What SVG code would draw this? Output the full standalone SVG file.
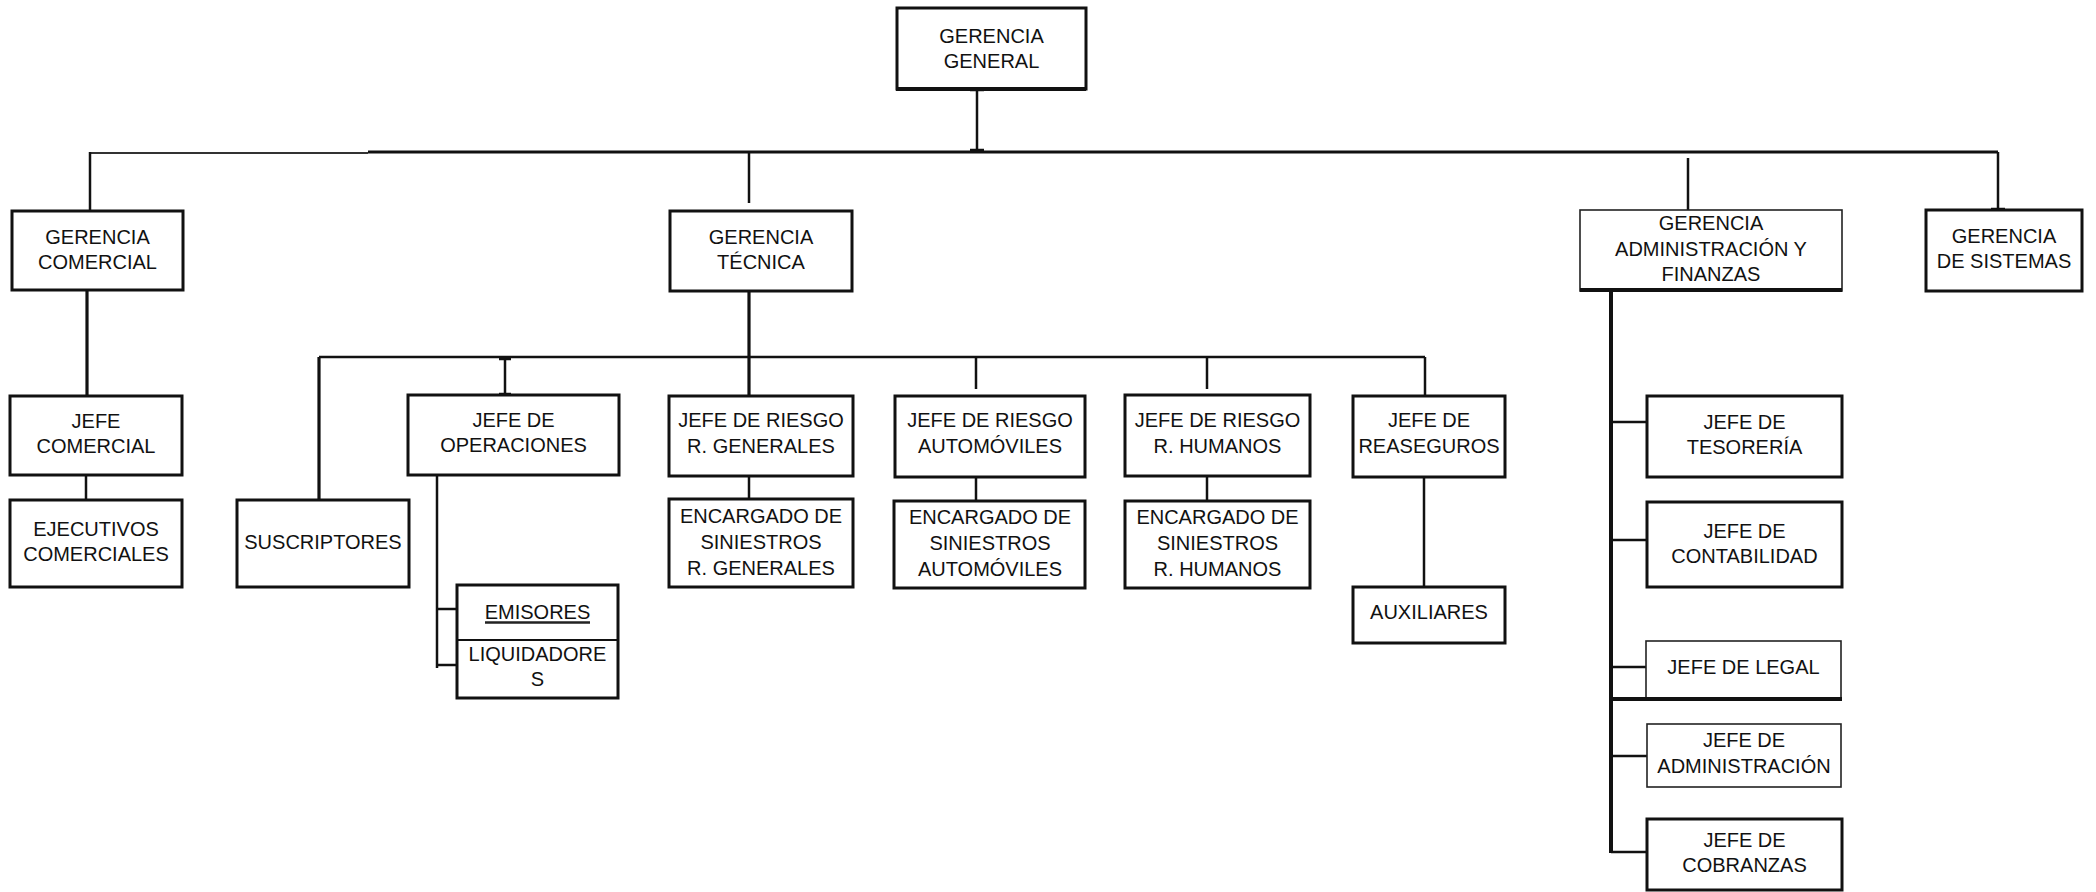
<svg xmlns="http://www.w3.org/2000/svg" width="2096" height="892" viewBox="0 0 2096 892">
<style>
.b{fill:#fff;stroke:#111;stroke-width:3}
.t{fill:#fff;stroke:#222;stroke-width:1.6}
.k{stroke:#111;stroke-width:4;fill:none}
.c{stroke:#111;stroke-width:2.5;fill:none}
.cb{stroke:#111;stroke-width:3.2;fill:none}
text{font-family:"Liberation Sans",Arial,sans-serif;font-size:20px;fill:#111;text-anchor:middle}
</style>
<rect width="2096" height="892" fill="#fff"/>
<g id="connectors">
<line class="c" x1="977" y1="89" x2="977" y2="152"/>
<line class="c" x1="970" y1="90" x2="984" y2="90"/>
<line class="c" x1="970" y1="150" x2="984" y2="150"/>
<line stroke="#333" stroke-width="2" x1="90" y1="153" x2="368" y2="153"/>
<line class="cb" x1="368" y1="152" x2="1998" y2="152"/>
<line class="c" x1="90" y1="152" x2="90" y2="211"/>
<line class="c" x1="749" y1="152" x2="749" y2="203"/>
<line class="c" x1="1688" y1="158" x2="1688" y2="210"/>
<line class="c" x1="1998" y1="152" x2="1998" y2="210"/>
<line class="c" x1="1991" y1="209" x2="2005" y2="209"/>
<line class="cb" x1="87" y1="290" x2="87" y2="396"/>
<line class="c" x1="86" y1="475" x2="86" y2="500"/>
<line class="cb" x1="749" y1="291" x2="749" y2="396"/>
<line class="c" x1="319" y1="357" x2="1425" y2="357"/>
<line class="cb" x1="319" y1="357" x2="319" y2="500"/>
<line class="c" x1="505" y1="357" x2="505" y2="395"/>
<line class="c" x1="499" y1="359" x2="511" y2="359"/>
<line class="c" x1="499" y1="394" x2="511" y2="394"/>
<line class="c" x1="976" y1="357" x2="976" y2="389"/>
<line class="c" x1="1207" y1="357" x2="1207" y2="389"/>
<line class="c" x1="1425" y1="357" x2="1425" y2="396"/>
<line class="c" x1="749" y1="476" x2="749" y2="499"/>
<line class="c" x1="976" y1="477" x2="976" y2="501"/>
<line class="c" x1="1207" y1="476" x2="1207" y2="501"/>
<line class="c" x1="1424" y1="477" x2="1424" y2="587"/>
<line class="c" x1="437" y1="475" x2="437" y2="668"/>
<line class="c" x1="437" y1="609" x2="457" y2="609"/>
<line class="c" x1="437" y1="665" x2="457" y2="665"/>
<line class="k" x1="1611" y1="291" x2="1611" y2="853"/>
<line class="c" x1="1611" y1="422" x2="1647" y2="422"/>
<line class="c" x1="1611" y1="540" x2="1647" y2="540"/>
<line class="c" x1="1611" y1="667" x2="1646" y2="667"/>
<line class="c" x1="1611" y1="756" x2="1647" y2="756"/>
<line class="c" x1="1611" y1="852" x2="1647" y2="852"/>
</g>
<g id="gerencia-general"><rect class="b" x="897" y="8" width="189" height="81"/><line class="k" x1="896" y1="89" x2="1086" y2="89"/><text x="991.5" y="43">GERENCIA</text><text x="991.5" y="68">GENERAL</text></g>
<g id="gerencia-comercial"><rect class="b" x="12" y="211" width="171" height="79"/><text x="97.5" y="244">GERENCIA</text><text x="97.5" y="269">COMERCIAL</text></g>
<g id="gerencia-tecnica"><rect class="b" x="670" y="211" width="182" height="80"/><text x="761" y="244">GERENCIA</text><text x="761" y="269">TÉCNICA</text></g>
<g id="gerencia-admin"><rect class="t" x="1580" y="210" width="262" height="81"/><line class="k" x1="1580" y1="290" x2="1842" y2="290"/><text x="1711" y="230">GERENCIA</text><text x="1711" y="255.5">ADMINISTRACIÓN Y</text><text x="1711" y="281">FINANZAS</text></g>
<g id="gerencia-sistemas"><rect class="b" x="1926" y="210" width="156" height="81"/><text x="2004" y="243">GERENCIA</text><text x="2004" y="268">DE SISTEMAS</text></g>
<g id="jefe-comercial"><rect class="b" x="10" y="396" width="172" height="79"/><text x="96" y="428">JEFE</text><text x="96" y="453">COMERCIAL</text></g>
<g id="ejecutivos"><rect class="b" x="10" y="500" width="172" height="87"/><text x="96" y="535.5">EJECUTIVOS</text><text x="96" y="560.5">COMERCIALES</text></g>
<g id="suscriptores"><rect class="b" x="237" y="500" width="172" height="87"/><text x="323" y="549">SUSCRIPTORES</text></g>
<g id="jefe-operaciones"><rect class="b" x="408" y="395" width="211" height="80"/><text x="513.5" y="427">JEFE DE</text><text x="513.5" y="452">OPERACIONES</text></g>
<g id="emisores-liquidadores"><rect class="b" x="457" y="585" width="161" height="113"/><line stroke="#111" stroke-width="2" x1="457" y1="640" x2="618" y2="640"/><text x="537.5" y="619">EMISORES</text><line stroke="#222" stroke-width="2.5" x1="485" y1="622.5" x2="590" y2="622.5"/><text x="537.5" y="660.5">LIQUIDADORE</text><text x="537.5" y="685.5">S</text></g>
<g id="jefe-riesgo-rg"><rect class="b" x="669" y="396" width="184" height="80"/><text x="761" y="427">JEFE DE RIESGO</text><text x="761" y="453">R. GENERALES</text></g>
<g id="enc-rg"><rect class="b" x="669" y="499" width="184" height="88"/><text x="761" y="523">ENCARGADO DE</text><text x="761" y="549">SINIESTROS</text><text x="761" y="575">R. GENERALES</text></g>
<g id="jefe-riesgo-auto"><rect class="b" x="895" y="396" width="190" height="81"/><text x="990" y="427">JEFE DE RIESGO</text><text x="990" y="453">AUTOMÓVILES</text></g>
<g id="enc-auto"><rect class="b" x="894" y="501" width="191" height="87"/><text x="990" y="524">ENCARGADO DE</text><text x="990" y="550">SINIESTROS</text><text x="990" y="576">AUTOMÓVILES</text></g>
<g id="jefe-riesgo-rh"><rect class="b" x="1125" y="395" width="185" height="81"/><text x="1217.5" y="427">JEFE DE RIESGO</text><text x="1217.5" y="453">R. HUMANOS</text></g>
<g id="enc-rh"><rect class="b" x="1125" y="501" width="185" height="87"/><text x="1217.5" y="524">ENCARGADO DE</text><text x="1217.5" y="550">SINIESTROS</text><text x="1217.5" y="576">R. HUMANOS</text></g>
<g id="jefe-reaseguros"><rect class="b" x="1353" y="396" width="152" height="81"/><text x="1429" y="427">JEFE DE</text><text x="1429" y="453">REASEGUROS</text></g>
<g id="auxiliares"><rect class="b" x="1353" y="587" width="152" height="56"/><text x="1429" y="619">AUXILIARES</text></g>
<g id="jefe-tesoreria"><rect class="b" x="1647" y="396" width="195" height="81"/><text x="1744.5" y="429">JEFE DE</text><text x="1744.5" y="454">TESORERÍA</text></g>
<g id="jefe-contabilidad"><rect class="b" x="1647" y="502" width="195" height="85"/><text x="1744.5" y="537.5">JEFE DE</text><text x="1744.5" y="562.5">CONTABILIDAD</text></g>
<g id="jefe-legal"><rect class="t" x="1646" y="641" width="195" height="57"/><line class="k" x1="1613" y1="699" x2="1842" y2="699"/><text x="1743.5" y="674">JEFE DE LEGAL</text></g>
<g id="jefe-administracion"><rect class="t" x="1647" y="724" width="194" height="63"/><text x="1744" y="747">JEFE DE</text><text x="1744" y="773">ADMINISTRACIÓN</text></g>
<g id="jefe-cobranzas"><rect class="b" x="1647" y="819" width="195" height="71"/><text x="1744.5" y="847">JEFE DE</text><text x="1744.5" y="872">COBRANZAS</text></g>
</svg>
